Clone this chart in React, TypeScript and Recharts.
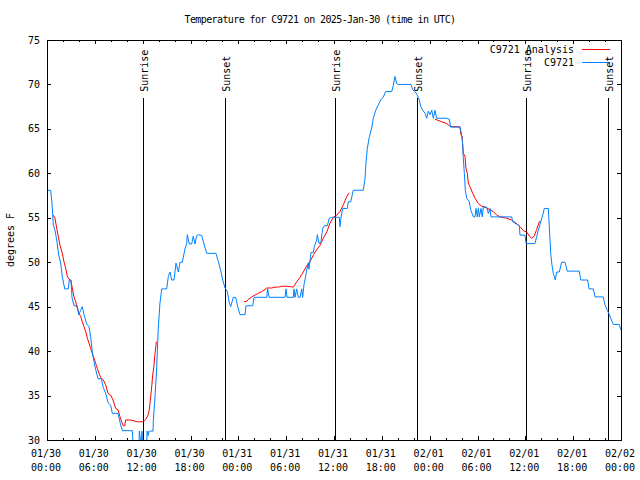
import React from "react";
import {
  Line,
  LineChart,
  ReferenceArea,
  ReferenceLine,
  XAxis,
  YAxis,
} from "recharts";

// hours since 01/30 00:00 UTC
const dayLabels = ["01/30", "01/31", "02/01", "02/02"];
const xTicks = [
  0, 2, 4, 6, 8, 10, 12, 14, 16, 18, 20, 22, 24, 26, 28, 30, 32, 34, 36, 38,
  40, 42, 44, 46, 48, 50, 52, 54, 56, 58, 60, 62, 64, 66, 68, 70, 72,
];
const yTicks = [30, 35, 40, 45, 50, 55, 60, 65, 70, 75];

const eventHours = [12.08, 22.37, 36.17, 46.45, 60.13, 70.41];
const eventNames = ["Sunrise", "Sunset", "Sunrise", "Sunset", "Sunrise", "Sunset"];
const eventTop = 68.5;

// C9721 observations
const obsHours = [
  0.13, 0.46, 0.63, 0.79, 1.0, 1.22, 1.47, 1.72, 1.92, 2.22, 2.67, 2.8, 3.01,
  3.14, 3.39, 3.8, 3.98, 4.23, 4.43, 4.64, 4.98, 5.27, 5.48, 5.68, 5.9, 6.11,
  6.4, 6.81, 7.06, 7.36, 7.65, 7.99, 8.19, 8.91, 9.24, 9.45, 10.7, 10.83,
  11.54, 11.58, 11.79, 11.92, 12.0, 12.51, 12.55, 12.71, 12.8, 13.3, 13.33,
  13.55, 13.76, 13.96, 14.17, 14.39, 15.01, 15.22, 15.43, 15.64, 15.93, 16.18,
  16.47, 16.68, 16.97, 17.31, 17.52, 17.6, 17.85, 18.15, 18.35, 18.56, 18.78,
  19.03, 19.41, 19.69, 20.03, 21.2, 21.49, 21.79, 22.04, 22.33, 22.62, 22.87,
  23.04, 23.37, 23.67, 23.92, 24.21, 24.84, 24.96, 25.8, 25.97, 27.56, 27.68,
  27.85, 29.85, 29.98, 30.11, 30.9, 30.98, 31.11, 31.32, 31.52, 31.74, 31.95,
  32.07, 32.24, 32.45, 32.57, 32.78, 32.86, 33.11, 33.4, 33.53, 33.83, 33.91,
  34.12, 34.37, 34.5, 34.58, 34.78, 35.16, 35.41, 35.71, 36.67, 36.75, 36.88,
  37.09, 37.67, 37.79, 38.1, 38.42, 39.68, 39.89, 40.02, 40.18, 40.43, 40.73,
  40.93, 41.23, 41.56, 41.86, 42.19, 42.49, 43.24, 43.44, 43.65, 43.87, 44.07,
  45.66, 45.87, 46.16, 46.45, 46.7, 46.88, 47.13, 47.42, 47.63, 47.83, 48.04,
  48.26, 48.46, 48.67, 48.88, 50.05, 50.46, 50.64, 51.8, 52.02, 52.14, 52.22,
  52.35, 52.47, 52.65, 52.97, 53.15, 53.48, 53.69, 53.81, 53.98, 54.1, 54.23,
  54.44, 54.6, 54.73, 55.16, 55.36, 55.57, 55.69, 58.29, 58.42, 59.25, 59.33,
  59.96, 60.09, 61.21, 61.43, 61.63, 61.93, 62.18, 62.38, 62.88, 63.01, 63.18,
  63.34, 63.51, 63.76, 63.93, 64.26, 64.56, 64.98, 65.26, 66.77, 66.95, 67.82,
  67.99, 68.53, 68.74, 69.78, 69.99, 70.28, 70.53, 70.71, 71.04, 71.79, 71.96,
];
const obsTemps = [
  58.1, 58.1, 56.6, 54.2, 53.6, 52.5, 50.8, 49.9, 48.4, 47.0, 47.0, 48.0, 48.0,
  46.0, 45.1, 45.1, 44.1, 44.6, 45.0, 44.1, 43.05, 42.75, 41.6, 39.9, 38.8,
  37.9, 36.9, 36.9, 35.9, 35.25, 34.2, 33.9, 33.0, 33.0, 31.7, 31.05, 31.05,
  29, 29, 31, 29.5, 31, 29, 29, 31, 30.5, 31, 31, 32.1, 34.9, 38.1, 42.6, 45.4,
  47.0, 47.0, 48.4, 48.9, 48.0, 48.0, 49.9, 48.9, 50.0, 50.0, 51.5, 52.1, 53.1,
  52.05, 52.05, 52.95, 52.05, 53.0, 53.1, 53.0, 52.05, 51.0, 51.0, 50.05, 49.1,
  48.0, 47.1, 46.7, 45.4, 45.0, 46.05, 46.05, 45.0, 44.1, 44.1, 45.1, 45.1,
  46.05, 46.05, 47.0, 46.05, 46.05, 47.0, 46.05, 46.05, 47.0, 46.05, 47.0,
  46.05, 46.05, 47.0, 46.05, 47.5, 48.4, 49.1, 49.95, 49.2, 51.1, 51.1, 51.75,
  52.5, 53.1, 52.1, 52.3, 53.25, 53.8, 54.1, 54.1, 54.95, 55.05, 55.05, 54.0,
  55.05, 56.05, 56.05, 56.8, 56.8, 58.1, 58.1, 59.4, 61.3, 62.8, 64.1, 65.1,
  66.2, 67.1, 67.7, 68.25, 68.6, 69.2, 69.2, 69.9, 70.9, 70.1, 70.0, 70.0, 69.4,
  69.2, 68.8, 68.25, 67.5, 67.1, 66.75, 66.2, 67.0, 66.6, 67.1, 66.2, 67.1,
  66.2, 66.2, 66.1, 65.2, 65.2, 64.3, 63.2, 61.7, 60.0, 58.1, 57.2, 56.8, 55.9,
  55.1, 55.1, 56.05, 55.1, 56.05, 55.1, 56.05, 55.1, 56.2, 56.2, 55.5, 56.05,
  55.1, 55.1, 54.55, 54.1, 53.05, 53.05, 52.1, 52.1, 52.9, 53.6, 54.55, 55.3,
  56.05, 56.05, 54.0, 51.0, 49.7, 48.75, 48.0, 48.9, 48.9, 50.0, 50.0, 49.0,
  49.0, 48.0, 48.0, 47.0, 47.0, 46.1, 46.1, 45.2, 44.6, 44.1, 43.7, 43.0, 43.0,
  42.4,
];

// C9721 Analysis, three pieces
const anaHours1 = [
  0.79, 1.0, 1.22, 1.42, 1.63, 1.92, 2.13, 2.35, 2.55, 2.76, 2.97, 3.17, 3.39,
  3.6, 3.8, 4.01, 4.23, 4.43, 4.64, 4.85, 5.06, 5.27, 5.48, 5.68, 5.9, 6.11,
  6.31, 6.52, 6.74, 7.06, 7.36, 7.65, 7.99, 8.28, 8.62, 8.91, 9.16, 9.37, 9.57,
  9.75, 9.87, 10.5, 11.33, 12.08, 12.38, 12.67, 12.83, 13.01, 13.13, 13.26,
  13.42, 13.55, 13.72, 13.76,
];
const anaTemps1 = [
  55.3, 54.95, 53.8, 52.9, 51.9, 51.0, 50.05, 49.3, 48.4, 48.1, 48.0, 47.1,
  46.1, 45.55, 44.8, 44.25, 43.9, 43.3, 42.75, 42.2, 41.45, 40.9, 40.3, 39.75,
  39.2, 38.6, 38.05, 37.5, 37.05, 36.75, 36.2, 35.25, 35.05, 34.5, 33.55, 33.4,
  32.6, 32.05, 31.6, 31.6, 32.25, 32.25, 32.05, 32.05, 32.3, 32.8, 33.4, 34.9,
  36.0, 37.3, 38.4, 39.75, 41.05, 41.05,
];
const anaHours2 = [
  24.71, 25.05, 25.25, 25.68, 26.09, 26.5, 26.93, 27.35, 27.56, 28.19, 28.6,
  29.01, 29.44, 30.07, 30.48, 30.9, 31.32, 31.74, 32.15, 32.58, 32.99, 33.4,
  33.83, 34.24, 34.66, 35.09, 35.5, 35.91, 36.34, 36.75, 37.17, 37.51, 37.79,
  37.92,
];
const anaTemps2 = [
  45.55, 45.6, 45.8, 46.1, 46.3, 46.5, 46.7, 46.95, 47.1, 47.1, 47.2, 47.2,
  47.3, 47.3, 47.25, 47.2, 47.8, 48.3, 48.9, 49.6, 50.05, 50.8, 51.4, 51.9,
  52.7, 53.4, 54.4, 55.05, 55.3, 55.7, 56.45, 57.2, 57.7, 57.75,
];
const anaHours3 = [
  48.67, 49.51, 50.14, 50.55, 50.89, 51.8, 51.93, 52.06, 52.22, 52.43, 52.55,
  52.72, 52.85, 53.06, 53.4, 53.69, 54.1, 54.53, 54.94, 55.57, 55.98, 56.41,
  56.82, 57.66, 58.29, 58.83, 59.33, 59.75, 60.17, 60.5, 60.8, 61.09, 61.43,
  61.75, 61.93,
];
const anaTemps3 = [
  66.1, 65.8, 65.6, 65.3, 65.25, 65.25, 64.3, 64.2, 62.25, 61.9, 60.6, 60.0,
  58.9, 58.5, 57.75, 57.2, 56.6, 56.3, 56.2, 55.9, 55.7, 55.3, 55.1, 54.95,
  54.75, 54.4, 54.0, 53.55, 53.4, 52.95, 52.7, 52.9, 53.7, 54.55, 54.55,
];

const zip = (hs: number[], ts: number[]) => hs.map((h, i) => ({ h, t: ts[i] }));
const obsData = zip(obsHours, obsTemps);
const anaData = [
  zip(anaHours1, anaTemps1),
  zip(anaHours2, anaTemps2),
  zip(anaHours3, anaTemps3),
];

const FONT = "DejaVu Sans Mono";
const LEFT = 47;
const RIGHT = 621;
const TOP = 40;
const BOTTOM = 440;
const RED = "#ff0000";
const BLUE = "#0080ff";

function XTick(props: any) {
  const { x, payload } = props;
  const v = payload.value as number;
  const major = v % 6 === 0;
  const len = major ? 4 : 2;
  const px = Math.round(x) + 0.5;
  const hh = String(v % 24).padStart(2, "0") + ":00";
  return (
    <g>
      <line x1={px} x2={px} y1={BOTTOM} y2={BOTTOM - len} stroke="#000" />
      <line x1={px} x2={px} y1={TOP} y2={TOP + len} stroke="#000" />
      {major && (
        <text x={x - 1} y={457} textAnchor="middle" fontFamily={FONT} fontSize={10} fill="#000">
          <tspan x={x - 1}>{dayLabels[Math.floor(v / 24)]}</tspan>
          <tspan x={x - 1} dy={14}>{hh}</tspan>
        </text>
      )}
    </g>
  );
}

function YTick(props: any) {
  const { y, payload } = props;
  const py = Math.round(y) + 0.5;
  return (
    <g>
      <line x1={LEFT} x2={LEFT + 4} y1={py} y2={py} stroke="#000" />
      <line x1={RIGHT} x2={RIGHT - 4} y1={py} y2={py} stroke="#000" />
      <text x={40} y={y + 3.5} textAnchor="end" fontFamily={FONT} fontSize={10} fill="#000">
        {payload.value}
      </text>
    </g>
  );
}

function SunLabel(props: any) {
  const { viewBox, text } = props;
  if (!viewBox) return null;
  const x = viewBox.x + 4.5;
  const y = viewBox.y - 6;
  return (
    <text
      transform={`translate(${x},${y}) rotate(-90)`}
      fontFamily={FONT}
      fontSize={10}
      fill="#000"
      textAnchor="start"
    >
      {text}
    </text>
  );
}

export default function App() {
  return (
    <div style={{ position: "absolute", left: 0, top: 0, background: "#fff" }}>
      <LineChart
        width={640}
        height={480}
        margin={{ top: TOP, right: 640 - RIGHT, bottom: 0, left: 0 }}
      >
        <XAxis
          dataKey="h"
          type="number"
          domain={[0, 72]}
          ticks={xTicks}
          interval={0}
          height={480 - BOTTOM}
          tickLine={false}
          axisLine={false}
          tick={(p: any) => <XTick {...p} />}
          allowDataOverflow
        />
        <YAxis
          dataKey="t"
          type="number"
          domain={[30, 75]}
          ticks={yTicks}
          interval={0}
          width={LEFT}
          tickLine={false}
          axisLine={false}
          tick={(p: any) => <YTick {...p} />}
          allowDataOverflow
        />
        <ReferenceArea
          x1={0}
          x2={72}
          y1={30}
          y2={75}
          fill="none"
          stroke="#000"
          strokeWidth={1}
          shapeRendering="crispEdges"
        />
        {eventHours.map((h, i) => (
          <ReferenceLine
            key={`ev${i}`}
            segment={[
              { x: h, y: eventTop },
              { x: h, y: 30 },
            ]}
            stroke="#000"
            strokeWidth={1}
            shapeRendering="crispEdges"
            label={(p: any) => <SunLabel {...p} text={eventNames[i]} />}
          />
        ))}
        {anaData.map((d, i) => (
          <Line
            key={`ana${i}`}
            data={d}
            dataKey="t"
            type="linear"
            stroke={RED}
            strokeWidth={1}
            dot={false}
            isAnimationActive={false}
          />
        ))}
        <Line
          data={obsData}
          dataKey="t"
          type="linear"
          stroke={BLUE}
          strokeWidth={1}
          dot={false}
          isAnimationActive={false}
        />
        <text
          x={320}
          y={23}
          textAnchor="middle"
          fontFamily={FONT}
          fontSize={10}
          letterSpacing={-0.6}
          fill="#000"
        >
          Temperature for C9721 on 2025-Jan-30 (time in UTC)
        </text>
        <text
          transform="translate(14,240) rotate(-90)"
          textAnchor="middle"
          fontFamily={FONT}
          fontSize={10}
          fill="#000"
        >
          degrees F
        </text>
        <g>
          <text x={574} y={53} textAnchor="end" fontFamily={FONT} fontSize={10} fill="#000">
            C9721 Analysis
          </text>
          <line x1={582} x2={610} y1={49.5} y2={49.5} stroke={RED} />
          <text x={574} y={66} textAnchor="end" fontFamily={FONT} fontSize={10} fill="#000">
            C9721
          </text>
          <line x1={582} x2={610} y1={62.5} y2={62.5} stroke={BLUE} />
        </g>
      </LineChart>
    </div>
  );
}
